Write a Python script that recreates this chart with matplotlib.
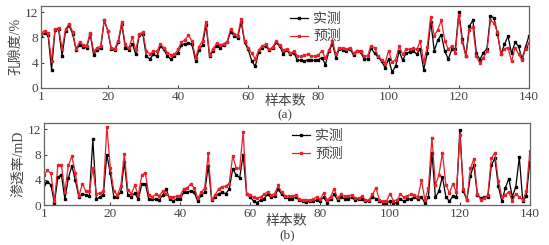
import numpy as np
import matplotlib
matplotlib.use("Agg")
import matplotlib.pyplot as plt

plt.rcParams['font.family'] = ['Liberation Serif', 'Noto Sans CJK SC']
plt.rcParams['axes.unicode_minus'] = False

# 孔隙度 (%)
por_real = [8.3, 8.7, 8.4, 2.9, 9.2, 9.3, 5.1, 9.0, 9.9, 8.6,
            6.0, 6.8, 6.5, 6.4, 8.5, 5.2, 6.0, 6.3, 10.7, 9.1,
            6.1, 6.0, 7.2, 10.1, 6.4, 6.0, 7.0, 5.3, 8.4, 8.5,
            5.0, 4.6, 5.3, 5.0, 6.6, 6.1, 5.0, 4.6, 5.0, 5.6,
            6.8, 7.0, 7.1, 6.9, 4.3, 6.0, 6.8, 10.0, 5.0, 5.9,
            6.7, 6.4, 6.8, 7.2, 8.9, 8.3, 7.9, 10.5, 7.2, 6.1,
            4.3, 3.4, 5.7, 6.4, 6.6, 6.0, 6.3, 7.2, 6.6, 5.4,
            6.0, 5.3, 5.6, 4.4, 4.4, 4.2, 4.5, 4.4, 4.4, 4.5,
            4.8, 3.7, 5.8, 7.0, 4.8, 6.2, 6.0, 5.9, 6.2, 5.2,
            5.8, 5.7, 4.6, 4.6, 6.3, 5.5, 4.9, 4.2, 3.2, 4.6,
            2.5, 3.5, 5.8, 4.4, 5.5, 5.7, 5.8, 5.4, 6.1, 2.9,
            5.5, 10.5, 5.9, 7.6, 8.4, 5.8, 4.6, 6.1, 6.1, 12.0,
            7.7, 5.1, 9.8, 10.7, 5.5, 4.5, 5.6, 6.2, 11.4, 11.1,
            8.6, 5.4, 6.9, 8.2, 5.5, 7.2, 6.6, 4.6, 6.5, 8.3]
por_pred = [8.6, 9.1, 8.7, 4.3, 9.3, 9.5, 6.2, 9.3, 10.2, 8.9,
            6.2, 7.3, 6.8, 6.7, 8.7, 5.8, 6.4, 6.6, 10.8, 9.1,
            6.4, 6.2, 7.5, 10.4, 6.9, 6.3, 8.0, 6.0, 8.6, 8.8,
            5.8, 5.4, 5.8, 5.8, 6.9, 6.4, 5.6, 5.2, 5.3, 6.1,
            7.3, 7.6, 8.4, 7.4, 4.8, 6.5, 7.5, 10.5, 5.2, 6.2,
            7.1, 6.8, 7.0, 7.3, 9.4, 8.6, 8.3, 10.9, 7.4, 6.4,
            5.5, 4.6, 6.0, 6.7, 6.9, 6.1, 6.5, 7.4, 6.8, 6.0,
            6.2, 5.5, 5.8, 5.1, 5.0, 5.2, 5.3, 5.0, 5.1, 5.2,
            5.9, 4.7, 6.0, 7.4, 5.3, 6.4, 6.3, 6.1, 6.4, 5.5,
            5.9, 5.9, 5.0, 5.1, 6.7, 6.4, 5.0, 4.5, 3.9, 5.9,
            4.1, 4.5, 6.6, 5.3, 6.2, 6.1, 6.3, 6.1, 7.4, 4.1,
            6.5, 11.3, 8.3, 9.2, 10.7, 7.5, 6.1, 6.7, 5.5, 11.5,
            7.2, 5.0, 9.2, 9.6, 5.0, 3.9, 4.8, 5.8, 10.7, 10.3,
            8.8, 5.3, 6.2, 6.4, 4.2, 6.4, 5.4, 4.4, 6.2, 7.1]

# 渗透率 (mD)
perm_real = [3.4, 3.7, 3.2, 0.3, 4.4, 4.8, 0.9, 4.3, 6.2, 3.9,
             1.3, 1.8, 1.6, 1.4, 10.4, 0.9, 1.3, 1.6, 8.0, 5.0,
             1.3, 1.3, 2.1, 6.8, 1.6, 1.3, 1.9, 0.9, 3.3, 3.4,
             0.9, 0.9, 0.9, 0.8, 1.6, 2.5, 0.9, 0.7, 0.9, 1.0,
             2.0, 2.1, 2.2, 2.0, 0.6, 1.6, 2.0, 6.2, 0.8, 1.3,
             1.8, 2.0, 1.8, 2.5, 5.7, 4.8, 4.3, 8.0, 1.7, 1.3,
             0.6, 0.4, 0.8, 1.0, 1.7, 1.2, 1.4, 2.5, 1.7, 1.2,
             1.0, 1.0, 1.3, 0.8, 0.6, 0.5, 0.6, 0.6, 0.8, 0.7,
             1.2, 0.4, 0.9, 1.7, 0.8, 1.3, 1.0, 1.0, 1.2, 0.8,
             0.9, 1.0, 0.6, 0.6, 1.3, 1.0, 0.6, 0.4, 0.4, 0.6,
             0.3, 0.4, 1.0, 0.6, 0.9, 1.0, 1.2, 0.9, 1.3, 0.3,
             1.3, 8.3, 1.2, 2.2, 4.5, 1.3, 0.6, 1.4, 1.3, 11.9,
             2.2, 0.8, 4.6, 6.4, 1.6, 1.1, 1.3, 1.3, 6.3, 7.4,
             3.0, 0.6, 2.7, 4.2, 1.3, 2.9, 7.6, 0.6, 1.4, 6.8]
perm_pred = [4.7, 5.5, 5.0, 0.6, 6.3, 6.3, 2.1, 6.3, 7.7, 5.0,
             1.4, 3.4, 2.2, 2.2, 5.8, 1.8, 1.9, 2.2, 12.4, 5.9,
             2.2, 1.6, 3.0, 8.1, 2.4, 1.8, 3.1, 1.6, 4.7, 5.1,
             1.6, 1.3, 1.7, 1.5, 2.2, 1.8, 1.3, 1.2, 1.4, 1.5,
             2.6, 2.7, 3.4, 2.7, 1.1, 2.0, 2.7, 8.2, 0.9, 1.6,
             2.6, 2.9, 3.0, 3.4, 7.8, 5.9, 5.8, 11.6, 1.8, 1.6,
             1.2, 1.1, 1.3, 1.7, 2.1, 1.6, 1.8, 3.1, 2.0, 1.5,
             1.4, 1.4, 1.6, 0.9, 0.8, 0.8, 0.8, 0.9, 1.3, 0.9,
             1.9, 0.8, 1.3, 2.6, 1.1, 1.7, 1.4, 1.4, 1.6, 1.1,
             1.1, 1.4, 0.8, 0.8, 1.7, 2.7, 0.8, 0.6, 0.6, 1.8,
             0.7, 0.8, 1.7, 1.2, 1.5, 1.7, 1.6, 1.3, 3.9, 0.8,
             2.7, 10.7, 3.2, 4.7, 8.3, 3.2, 1.9, 3.4, 2.0, 11.1,
             2.6, 0.8, 5.8, 7.3, 1.8, 0.8, 1.1, 1.6, 7.4, 8.3,
             3.8, 1.3, 1.6, 2.1, 0.6, 1.8, 1.3, 0.8, 2.2, 8.5]

n = np.arange(1, len(por_real) + 1)
xticks = [1, 20, 40, 60, 80, 100, 120, 140]
yticks = [0, 4, 8, 12]

fig = plt.figure(figsize=(5.49, 2.45), dpi=100)
ax1 = fig.add_axes([0.0747, 0.641, 0.889, 0.335])
ax2 = fig.add_axes([0.080, 0.163, 0.885, 0.335])

panels = [(ax1, por_real, por_pred, '孔隙度/%', '(a)', 102, 115),
          (ax2, perm_real, perm_pred, '渗透率/mD', '(b)', 221, 235)]

for ax, real, pred, ylab, tag, y_xl, y_tag in panels:
    ax.plot(n, real, color='black', lw=0.9, marker='s', ms=1.9, label='实测')
    ax.plot(n, pred, color='#e8202a', lw=0.9, marker='s', ms=1.9, label='预测')
    ax.set_xlim(1, 140)
    ax.set_ylim(0, 13)
    ax.set_xticks(xticks)
    ax.set_yticks(yticks)
    ax.tick_params(direction='in', labelsize=9.5, colors='#444', length=2.5, pad=2)
    for s in ax.spines.values():
        s.set_color('#666')
        s.set_linewidth(0.9)
    ax.set_ylabel(ylab, fontsize=10, color='#444', labelpad=2)
    pos = ax.get_position()
    xc = pos.x0 + pos.width / 2
    fig.text(xc, 1 - y_xl / 245, '样本数', fontsize=10, color='#444', ha='center', va='center')
    fig.text(xc, 1 - y_tag / 245, tag, fontsize=9.5, color='#444', ha='center', va='center')
    leg = ax.legend(loc='upper left', bbox_to_anchor=(0.49, 1.03), frameon=False,
                    fontsize=10, handlelength=1.3, handletextpad=0.4,
                    labelspacing=0.3, borderpad=0.2)
    for t in leg.get_texts():
        t.set_color('#444')

fig.savefig('out.png', dpi=100)
